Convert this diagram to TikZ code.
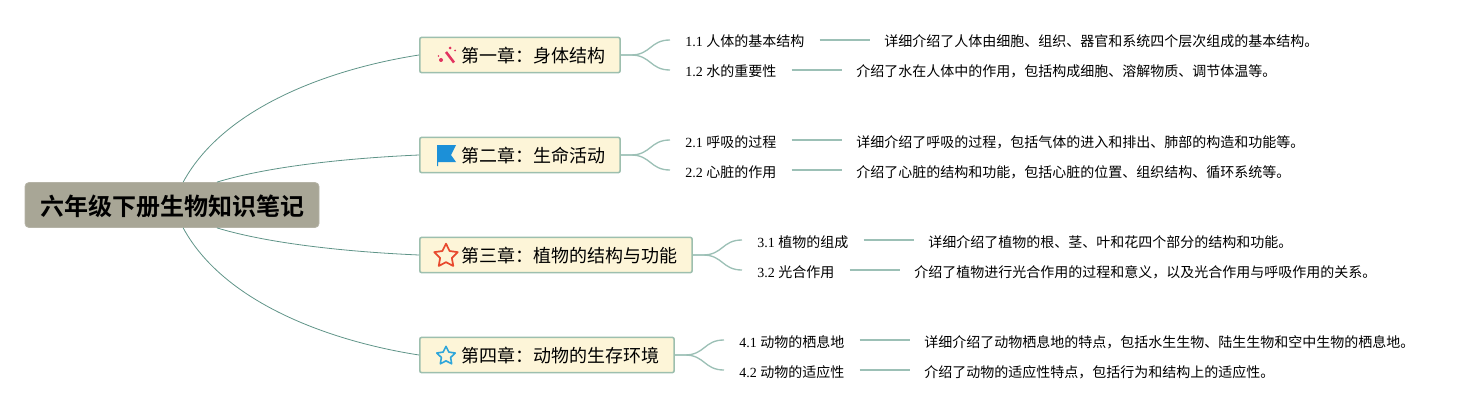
\documentclass[tikz,border=0pt]{standalone}
\usepackage{fontspec}
\setmainfont{Liberation Serif}
\newfontfamily\cjk[BoldFont=Noto Sans CJK SC Bold]{Noto Sans CJK SC}
\usetikzlibrary{shapes.geometric}
\newcommand{\cncolon}{\char"FF1A\relax}
\newcommand{\cncomma}{\char"FF0C\relax}
\definecolor{rootfill}{HTML}{A8A696}
\definecolor{boxfill}{HTML}{FDF5D8}
\definecolor{boxline}{HTML}{9DBFAE}
\definecolor{linkdark}{HTML}{5F9488}
\definecolor{linklight}{HTML}{9CC0B6}
\definecolor{wandred}{HTML}{E2335F}
\definecolor{flagblue}{HTML}{1C90D8}
\definecolor{starred}{HTML}{E8492E}
\definecolor{starblue}{HTML}{2FA6DA}
\tikzset{
  rootbox/.style={draw=rootfill!85!white,fill=rootfill,rounded corners=3pt,line width=0.6pt,inner xsep=11.25pt,minimum height=33.75pt,inner ysep=0pt,text height=17pt,text depth=2pt,font=\cjk\fontsize{18}{22}\selectfont\bfseries},
  chapter/.style={draw=boxline,fill=boxfill,rounded corners=1.5pt,line width=1.2pt,anchor=west,inner xsep=11pt,inner ysep=0pt,minimum height=26.5pt,text height=13.5pt,text depth=2pt,font=\cjk\fontsize{13.5}{16}\selectfont},
  leaf/.style={anchor=west,inner xsep=11.25pt,inner ysep=0pt,text height=10.5pt,text depth=0pt,font=\fontsize{10.5}{13}\selectfont},
  detail/.style={anchor=west,inner xsep=10.5pt,inner ysep=0pt,text height=10.5pt,text depth=0pt,font=\cjk\fontsize{10.5}{13}\selectfont},
  mainlink/.style={draw=linkdark,line width=0.6pt},
  leaflink/.style={draw=linklight,line width=1pt},
  iconstar/.style={star,star points=5,star point ratio=2,inner sep=0pt,line join=round,fill=none},
}
\begin{document}
\begin{tikzpicture}[x=0.75pt,y=0.75pt,yscale=-1,xscale=1]
\useasboundingbox (0,0) rectangle (1474,410);

% Root
\node [rootbox] (root) at (172,205) {六年级下册生物知识笔记};

% Chapters
\node [chapter] (ch1) at (419,55) {\hspace{20.25pt}第一章\cncolon 身体结构};
\node [chapter] (ch2) at (419,155) {\hspace{20.25pt}第二章\cncolon 生命活动};
\node [chapter] (ch3) at (419,255) {\hspace{20.25pt}第三章\cncolon 植物的结构与功能};
\node [chapter] (ch4) at (419,355) {\hspace{20.25pt}第四章\cncolon 动物的生存环境};

% Root links
\draw [mainlink] (root.64) .. controls (225,105) and (335,68) .. (ch1.west);
\draw [mainlink] (root.27) .. controls (270,166) and (350,158) .. (ch2.west);
\draw [mainlink] (root.-27) .. controls (270,244) and (350,252) .. (ch3.west);
\draw [mainlink] (root.-64) .. controls (225,305) and (335,342) .. (ch4.west);

% Leaves
\node [leaf] (leaf11) at (670,40) {1.1 {\cjk 人体的基本结构}};
\node [leaf] (leaf12) at (670,70) {1.2 {\cjk 水的重要性}};
\node [leaf] (leaf21) at (670,140) {2.1 {\cjk 呼吸的过程}};
\node [leaf] (leaf22) at (670,170) {2.2 {\cjk 心脏的作用}};
\node [leaf] (leaf31) at (742,240) {3.1 {\cjk 植物的组成}};
\node [leaf] (leaf32) at (742,270) {3.2 {\cjk 光合作用}};
\node [leaf] (leaf41) at (724,340) {4.1 {\cjk 动物的栖息地}};
\node [leaf] (leaf42) at (724,370) {4.2 {\cjk 动物的适应性}};

% Details
\node [detail] (det11) at (870,40) {详细介绍了人体由细胞、组织、器官和系统四个层次组成的基本结构。};
\node [detail] (det12) at (842,70) {介绍了水在人体中的作用\cncomma 包括构成细胞、溶解物质、调节体温等。};
\node [detail] (det21) at (842,140) {详细介绍了呼吸的过程\cncomma 包括气体的进入和排出、肺部的构造和功能等。};
\node [detail] (det22) at (842,170) {介绍了心脏的结构和功能\cncomma 包括心脏的位置、组织结构、循环系统等。};
\node [detail] (det31) at (914,240) {详细介绍了植物的根、茎、叶和花四个部分的结构和功能。};
\node [detail] (det32) at (900,270) {介绍了植物进行光合作用的过程和意义\cncomma 以及光合作用与呼吸作用的关系。};
\node [detail] (det41) at (910,340) {详细介绍了动物栖息地的特点\cncomma 包括水生生物、陆生生物和空中生物的栖息地。};
\node [detail] (det42) at (910,370) {介绍了动物的适应性特点\cncomma 包括行为和结构上的适应性。};

% Chapter to leaf
\draw [leaflink] (ch1.east) -- ++(10,0) .. controls +(20,0) and +(-20,0) .. (leaf11.west);
\draw [leaflink] (ch1.east) -- ++(10,0) .. controls +(20,0) and +(-20,0) .. (leaf12.west);
\draw [leaflink] (ch2.east) -- ++(10,0) .. controls +(20,0) and +(-20,0) .. (leaf21.west);
\draw [leaflink] (ch2.east) -- ++(10,0) .. controls +(20,0) and +(-20,0) .. (leaf22.west);
\draw [leaflink] (ch3.east) -- ++(10,0) .. controls +(20,0) and +(-20,0) .. (leaf31.west);
\draw [leaflink] (ch3.east) -- ++(10,0) .. controls +(20,0) and +(-20,0) .. (leaf32.west);
\draw [leaflink] (ch4.east) -- ++(10,0) .. controls +(20,0) and +(-20,0) .. (leaf41.west);
\draw [leaflink] (ch4.east) -- ++(10,0) .. controls +(20,0) and +(-20,0) .. (leaf42.west);

% Leaf to detail
\draw [leaflink] (leaf11.east) -- (det11.west);
\draw [leaflink] (leaf12.east) -- (det12.west);
\draw [leaflink] (leaf21.east) -- (det21.west);
\draw [leaflink] (leaf22.east) -- (det22.west);
\draw [leaflink] (leaf31.east) -- (det31.west);
\draw [leaflink] (leaf32.east) -- (det32.west);
\draw [leaflink] (leaf41.east) -- (det41.west);
\draw [leaflink] (leaf42.east) -- (det42.west);

% Icon: wand
\draw [wandred,line width=1.9pt] (446,52) -- (454,62.5);
\fill [wandred] (450,48) circle (1.5) (455,50.5) circle (1) (441,60) circle (2) (438.5,56) circle (0.8);

% Icon: flag
\fill [flagblue] (437,145) -- (456,145) -- (451,155) -- (456,162) -- (438,162) -- (438,166) -- (437,166) -- cycle;

% Icon: stars
\node [iconstar,draw=starred,line width=1.3pt,minimum size=18.5pt] (star3) at (446,256) {};
\node [iconstar,draw=starblue,line width=1.2pt,minimum size=14.5pt] (star4) at (446,356) {};
\end{tikzpicture}
\end{document}
